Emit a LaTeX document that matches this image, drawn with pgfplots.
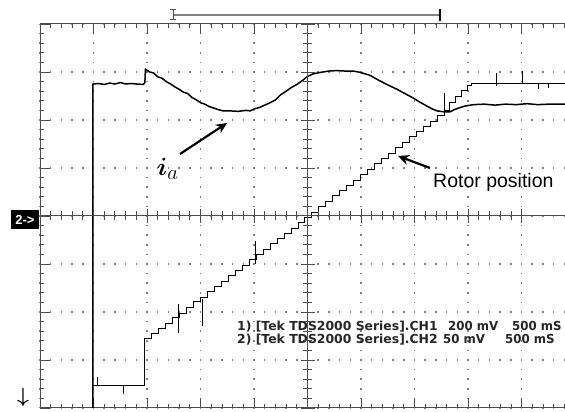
\documentclass[border=0pt]{standalone}
\usepackage{pgfplots}
\pgfplotsset{compat=1.18}
\usepackage{graphicx}
\usepackage{bm}
\usepackage{fontspec}
\setmainfont{Liberation Sans}
\newfontfamily\tekfont{DejaVu Sans}
\usetikzlibrary{arrows.meta}
\definecolor{framec}{gray}{0.3}
\definecolor{gridc}{gray}{0.5}
\begin{document}
\begin{tikzpicture}
\useasboundingbox (-40pt,-4pt) rectangle (525pt,408pt);
\begin{axis}[
  at={(0,0)}, anchor=south west,
  scale only axis, width=525pt, height=384pt,
  xmin=0, xmax=9.81, ymin=-4, ymax=4,
  axis x line*=box, axis y line*=left,
  axis line style={framec, line width=1pt},
  xtick={0,...,10}, ytick={-4,...,4},
  minor tick num=4,
  xticklabels={}, yticklabels={},
  tick align=inside,
  major tick length=10pt, minor tick length=4pt,
  every tick/.style={framec, line width=0.9pt},
  grid=major,
  x grid style={gridc, line width=1.5pt, dash pattern=on 1.5pt off 8.1pt, dash phase=0.75pt},
  y grid style={gridc, line width=1.5pt, dash pattern=on 1.5pt off 9.2pt, dash phase=0.75pt},
]
% i_a (CH1)
\addplot[black, line width=1.5pt, line join=round] coordinates {
(0.99,-4) (0.99,2.75) (1.10,2.76) (1.2,2.74) (1.3,2.77) (1.4,2.75) (1.5,2.78) (1.6,2.75) (1.7,2.76) (1.8,2.75) (1.93,2.74) (1.96,2.78) (1.97,3.06) (2.05,3.0) (2.12,2.98) (2.2,2.9) (2.28,2.87) (2.36,2.8) (2.44,2.75) (2.52,2.69) (2.6,2.64) (2.68,2.58) (2.76,2.55) (2.84,2.47) (2.92,2.42) (3.0,2.36) (3.08,2.33) (3.16,2.28) (3.24,2.25) (3.32,2.22) (3.42,2.19) (3.55,2.19) (3.7,2.18) (3.85,2.2) (3.93,2.19) (4.0,2.23) (4.1,2.26) (4.2,2.31) (4.3,2.36) (4.4,2.42) (4.49,2.52) (4.6,2.6) (4.7,2.68) (4.8,2.74) (4.9,2.82) (4.99,2.9) (5.1,2.96) (5.23,2.99) (5.4,3.02) (5.55,3.03) (5.7,3.02) (5.85,3.02) (5.95,3.0) (6.05,2.97) (6.17,2.93) (6.26,2.87) (6.36,2.81) (6.5,2.73) (6.67,2.64) (6.82,2.55) (6.97,2.46) (7.1,2.37) (7.23,2.29) (7.33,2.23) (7.42,2.19) (7.55,2.17) (7.66,2.17) (7.75,2.22) (7.85,2.26) (7.94,2.29) (8.1,2.32) (8.3,2.33) (8.5,2.31) (8.7,2.33) (8.9,2.32) (9.1,2.34) (9.3,2.32) (9.5,2.33) (9.81,2.33)
};
% rotor position (CH2), staircase
\addplot[black, line width=0.9pt, const plot mark left] coordinates {
(0.99,-3.54) (1.96,-3.54) (1.96,-2.56) (2.09,-2.45) (2.22,-2.35) (2.35,-2.23) (2.48,-2.12) (2.61,-2.02) (2.74,-1.90) (2.87,-1.79) (3.00,-1.69) (3.13,-1.57) (3.26,-1.46) (3.39,-1.36) (3.52,-1.24) (3.65,-1.13) (3.78,-1.03) (3.91,-0.91) (4.04,-0.80) (4.17,-0.70) (4.30,-0.58) (4.43,-0.47) (4.56,-0.37) (4.69,-0.25) (4.82,-0.14) (4.95,-0.03) (5.08,0.08) (5.21,0.19) (5.34,0.31) (5.47,0.42) (5.60,0.53) (5.73,0.64) (5.86,0.75) (5.99,0.87) (6.12,0.98) (6.25,1.09) (6.38,1.20) (6.51,1.31) (6.64,1.42) (6.77,1.54) (6.90,1.65) (7.03,1.76) (7.16,1.87) (7.29,1.98) (7.42,2.09) (7.55,2.20) (7.66,2.36) (7.77,2.50) (7.88,2.62) (7.98,2.72) (8.06,2.77) (9.81,2.77)
};
% spikes on CH2
\addplot[black, line width=0.9pt] coordinates {(1.065,-3.35) (1.065,-3.54)};
\addplot[black, line width=0.9pt] coordinates {(1.55,-3.54) (1.55,-3.71)};
\addplot[black, line width=0.9pt] coordinates {(2.58,-1.83) (2.58,-2.44)};
\addplot[black, line width=0.9pt] coordinates {(3.03,-1.73) (3.03,-2.29)};
\addplot[black, line width=0.9pt] coordinates {(4.02,-0.52) (4.02,-1.0)};
\addplot[black, line width=0.9pt] coordinates {(7.55,2.56) (7.55,2.19)};
\addplot[black, line width=0.9pt] coordinates {(8.52,2.98) (8.52,2.71)};
\addplot[black, line width=0.9pt] coordinates {(9.01,3.02) (9.01,2.77)};
\addplot[black, line width=0.9pt] coordinates {(9.31,2.77) (9.31,2.65)};
\addplot[black, line width=0.9pt] coordinates {(9.5,2.77) (9.5,2.67)};
\end{axis}
% annotations (picture coords: px-40, 408-py)
\draw[gray, line width=1.4pt] (133pt,393pt) -- (400pt,393pt);
\draw[black!70, line width=1pt] (133pt,388pt) -- (133pt,398pt) (130pt,398pt) -- (136pt,398pt) (130pt,388pt) -- (136pt,388pt);
\draw[black, line width=2pt] (399.5pt,387pt) -- (399.5pt,399pt);
\fill[black] (-29pt,179pt) rectangle (-1pt,198pt);
\node[text=white, font=\bfseries\fontsize{13}{13}\selectfont] at (-15pt,188.5pt) {2->};
\node[font=\fontsize{20}{20}\selectfont] at (-17pt,11pt) {$\bm{\downarrow}$};
\node[anchor=base west, inner sep=0pt, font=\fontsize{28}{28}\selectfont] at (117pt,232pt) {$\bm{i}_{a}$};
\draw[line width=2.2pt, -{Stealth[length=11pt,width=10pt]}] (140pt,254pt) -- (187pt,285pt);
\node[anchor=base west, inner sep=0pt, font=\fontsize{19.5}{19.5}\selectfont] at (393pt,220pt) {Rotor position};
\draw[line width=2.2pt, -{Stealth[length=11pt,width=10pt]}] (390pt,240pt) -- (358pt,252pt);
\begin{scope}[every node/.style={anchor=base west, inner sep=0pt, font=\tekfont\bfseries\fontsize{12.4}{12.4}\selectfont, text=black!85}]
\node at (197pt,77.5pt) {1) [Tek TDS2000 Series].CH1};
\node at (408pt,77.5pt) {\scalebox{0.95}[1]{200 mV}};
\node at (472pt,77.5pt) {\scalebox{0.95}[1]{500 mS}};
\node at (197pt,64.5pt) {2) [Tek TDS2000 Series].CH2};
\node at (403pt,64.5pt) {\scalebox{0.95}[1]{50 mV}};
\node at (465pt,64.5pt) {\scalebox{0.95}[1]{500 mS}};
\end{scope}
% centre crosshair
\begin{axis}[
  at={(0,0)}, anchor=south west,
  scale only axis, width=525pt, height=384pt,
  xmin=-5, xmax=4.81, ymin=-4, ymax=4,
  axis lines=center,
  axis line style={-, framec, line width=1pt},
  xtick={-5,...,4}, ytick={-4,...,4},
  minor tick num=4,
  xticklabels={}, yticklabels={},
  tick align=center,
  major tick length=14pt, minor tick length=9pt,
  every tick/.style={framec, line width=0.9pt},
]
\end{axis}
\end{tikzpicture}
\end{document}
